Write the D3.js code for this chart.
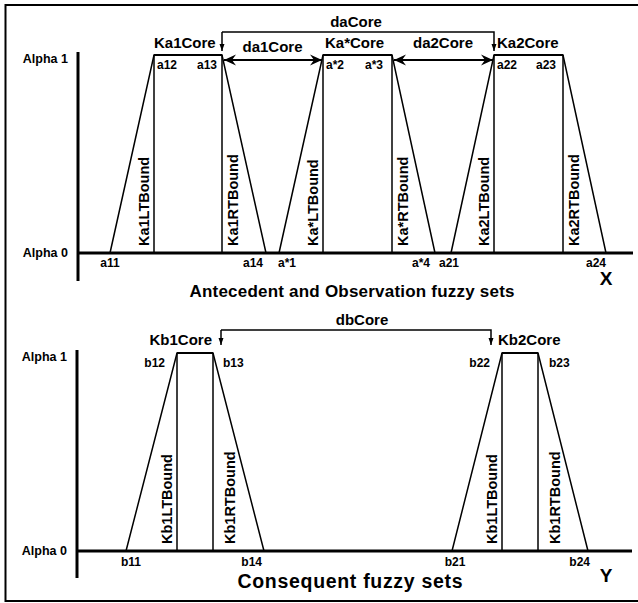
<!DOCTYPE html>
<html lang="en">

<head>
    <meta charset="utf-8">
    <script src="https://d3js.org/d3.v7.min.js"></script>
    <style>
        body { margin: 0; background: #fff; }
        text { font-family: "Liberation Sans", Arial, sans-serif; font-weight: bold; fill: #000; }
    </style>
</head>

<body>
    <script>
        // Fuzzy set break points (x units along the axis)
        const setA1 = [32, 76, 144, 188];
        const setAStar = [201, 245, 314, 357];
        const setA2 = [373, 416, 485, 528];
        const setB1 = [48, 99, 135, 186];
        const setB2 = [374, 424, 460, 510];

        // point labels
        const labelsA1 = ["a11", "a12", "a13", "a14"];
        const labelsAStar = ["a*1", "a*2", "a*3", "a*4"];
        const labelsA2 = ["a21", "a22", "a23", "a24"];
        const labelsB1 = ["b11", "b12", "b13", "b14"];
        const labelsB2 = ["b21", "b22", "b23", "b24"];

        const coreTop = ["Ka1Core", "Ka*Core", "Ka2Core"];
        const coreBottom = ["Kb1Core", "Kb2Core"];
        const boundTop = [["Ka1LTBound", "Ka1RTBound"], ["Ka*LTBound", "Ka*RTBound"], ["Ka2LTBound", "Ka2RTBound"]];
        const boundBottom = [["Kb1LTBound", "Kb1RTBound"], ["Kb1LTBound", "Kb1RTBound"]];

        // distances between cores (start, end)
        const daCore = [144, 416];
        const dbCore = [143, 413];
        const alphaLevels = [0, 1];

        const width = 638;
        const height = 603;

        const svg = d3.select("body").append("svg")
            .attr("width", width)
            .attr("height", height);

        // arrow heads
        const defs = svg.append("defs");
        defs.append("marker")
            .attr("id", "bigArrow")
            .attr("viewBox", "-12 -6 13 12")
            .attr("markerWidth", 13).attr("markerHeight", 12)
            .attr("markerUnits", "userSpaceOnUse")
            .attr("refX", 0).attr("refY", 0)
            .attr("orient", "auto-start-reverse")
            .append("path").attr("d", "M0,0 L-12,-5.5 L-8,0 L-12,5.5 Z");
        defs.append("marker")
            .attr("id", "smallArrow")
            .attr("viewBox", "-7 -3 8 6")
            .attr("markerWidth", 8).attr("markerHeight", 6)
            .attr("markerUnits", "userSpaceOnUse")
            .attr("refX", 0).attr("refY", 0)
            .attr("orient", "auto")
            .append("path").attr("d", "M0,0 L-7,-2.5 L-7,2.5 Z");

        // frame (left, top, bottom)
        svg.append("path")
            .attr("d", "M638,5 L5.5,5 L5.5,601 L638,601")
            .attr("fill", "none").attr("stroke", "#000").attr("stroke-width", 2);

        // shared x scale
        const x = d3.scaleLinear().domain([0, 555]).range([78, 633]);

        function drawPanel(opt) {
            const y = d3.scaleLinear().domain([0, 1]).range(opt.yRange);
            const g = svg.append("g");

            // y axis line
            g.append("line")
                .attr("x1", opt.axisX).attr("x2", opt.axisX)
                .attr("y1", opt.axisTop).attr("y2", opt.axisBottom)
                .attr("stroke", "#000").attr("stroke-width", 3);
            // x axis line
            g.append("line")
                .attr("x1", opt.axisX - 1).attr("x2", opt.axisEnd)
                .attr("y1", y(0)).attr("y2", y(0))
                .attr("stroke", "#000").attr("stroke-width", 3);

            // alpha labels
            g.selectAll(".alpha").data(alphaLevels).join("text")
                .attr("x", opt.axisX - 10)
                .attr("y", d => y(d) + (d === 1 ? opt.alpha1Dy : 4))
                .attr("text-anchor", "end")
                .attr("font-size", 12.5)
                .text(d => "Alpha " + d);

            const line = d3.line().x(d => x(d[0])).y(d => y(d[1]));

            opt.sets.forEach((s, i) => {
                // trapezoid outline
                g.append("path")
                    .datum([[s[0], 0], [s[1], 1], [s[2], 1], [s[3], 0]])
                    .attr("fill", "none").attr("stroke", "#000").attr("stroke-width", 1.5)
                    .attr("d", line);
                g.append("path")
                    .datum([[s[1], 1], [s[2], 1]])
                    .attr("fill", "none").attr("stroke", "#000").attr("stroke-width", 2)
                    .attr("d", line);
                // core verticals
                [s[1], s[2]].forEach(v => {
                    g.append("path")
                        .datum([[v, 1], [v, 0]])
                        .attr("fill", "none").attr("stroke", "#000").attr("stroke-width", 1.5)
                        .attr("d", line);
                });

                // bound labels (rotated)
                const b = opt.bounds[i];
                g.append("text")
                    .attr("transform", `translate(${x(s[1]) - 5},${y(0) - 7}) rotate(-90)`)
                    .attr("font-size", 14.5).text(b[0]);
                g.append("text")
                    .attr("transform", `translate(${x(s[2]) + opt.rtGap},${y(0) - 7}) rotate(-90)`)
                    .attr("font-size", 14.5).text(b[1]);

                // point labels
                const lab = opt.labels[i];
                const pos = opt.labelPos[i];
                lab.forEach((t, k) => {
                    const p = pos[k];
                    g.append("text")
                        .attr("x", x(s[k]) + p[1])
                        .attr("y", k === 0 || k === 3 ? y(0) + opt.lowDy : y(1) + opt.highDy)
                        .attr("text-anchor", p[0])
                        .attr("font-size", 12)
                        .text(t);
                });

                // core label
                const c = opt.coreAnchor[i];
                g.append("text")
                    .attr("x", x(s[c[1]]) + c[2])
                    .attr("y", y(1) + opt.coreDy)
                    .attr("text-anchor", c[0])
                    .attr("font-size", 15)
                    .text(opt.cores[i]);
            });

            // bracket between cores
            const br = opt.bracket;
            g.append("path")
                .attr("d", `M${x(br[0])},${opt.bracketY} L${x(br[1])},${opt.bracketY} L${x(br[1])},${y(1) + opt.tipDy}`)
                .attr("fill", "none").attr("stroke", "#000").attr("stroke-width", 1.5)
                .attr("marker-end", "url(#smallArrow)");
            g.append("path")
                .attr("d", `M${x(br[0])},${opt.bracketY} L${x(br[0])},${y(1) + opt.tipDy}`)
                .attr("fill", "none").attr("stroke", "#000").attr("stroke-width", 1.5)
                .attr("marker-end", "url(#smallArrow)");
            g.append("text")
                .attr("x", x((br[0] + br[1]) / 2) + opt.bracketTextDx)
                .attr("y", opt.bracketY - 5)
                .attr("text-anchor", "middle")
                .attr("font-size", 15)
                .text(opt.bracketLabel);

            // axis name + title
            g.append("text")
                .attr("x", 606).attr("y", y(0) + opt.axisNameDy)
                .attr("text-anchor", "middle").attr("font-size", 19)
                .text(opt.axisName);
            g.append("text")
                .attr("x", opt.titleX).attr("y", y(0) + opt.titleDy)
                .attr("text-anchor", "middle").attr("font-size", opt.titleSize)
                .attr("textLength", opt.titleWidth).attr("lengthAdjust", "spacing")
                .text(opt.title);

            return y;
        }

        // Antecedent panel
        const yTop = drawPanel({
            yRange: [253, 55],
            axisX: 78, axisTop: 52, axisBottom: 281, axisEnd: 633,
            alpha1Dy: 8,
            sets: [setA1, setAStar, setA2],
            labels: [labelsA1, labelsAStar, labelsA2],
            labelPos: [
                [["middle", 0], ["start", 3], ["end", -5], ["end", -3]],
                [["start", -1], ["start", 3], ["end", -9], ["end", -5]],
                [["middle", -2], ["start", 3], ["end", -7], ["end", 0]]
            ],
            lowDy: 14, highDy: 14,
            bounds: boundTop, rtGap: 16,
            cores: coreTop,
            coreAnchor: [["start", 1, 0], ["start", 1, 2], ["start", 1, 3]],
            coreDy: -7,
            bracket: daCore, bracketY: 32, tipDy: -4, bracketTextDx: -2,
            bracketLabel: "daCore",
            axisName: "X", axisNameDy: 32,
            title: "Antecedent and Observation fuzzy sets", titleX: 352, titleDy: 44,
            titleSize: 17, titleWidth: 325
        });

        // Consequent panel
        const yBottom = drawPanel({
            yRange: [551, 353],
            axisX: 77, axisTop: 350, axisBottom: 578, axisEnd: 632,
            alpha1Dy: 8,
            sets: [setB1, setB2],
            labels: [labelsB1, labelsB2],
            labelPos: [
                [["middle", 5], ["end", -12], ["start", 10], ["end", -2]],
                [["middle", 3], ["end", -12], ["start", 11], ["end", 2]]
            ],
            lowDy: 15, highDy: 14,
            bounds: boundBottom, rtGap: 22,
            cores: coreBottom,
            coreAnchor: [["end", 2, -1], ["start", 1, -4]],
            coreDy: -8,
            bracket: dbCore, bracketY: 330, tipDy: -8, bracketTextDx: 6,
            bracketLabel: "dbCore",
            axisName: "Y", axisNameDy: 31,
            title: "Consequent fuzzy sets", titleX: 350, titleDy: 37,
            titleSize: 19.5, titleWidth: 225
        });

        // double arrows between neighbouring cores (top panel)
        const coreGaps = [
            { label: "da1Core", from: setA1[2], to: setAStar[1], textDy: -8 },
            { label: "da2Core", from: setAStar[2], to: setA2[1], textDy: -12 }
        ];
        coreGaps.forEach(d => {
            const yy = yTop(1) + 5;
            svg.append("line")
                .attr("x1", x(d.from) + 2).attr("x2", x(d.to) - 1)
                .attr("y1", yy).attr("y2", yy)
                .attr("stroke", "#000").attr("stroke-width", 2)
                .attr("marker-start", "url(#bigArrow)")
                .attr("marker-end", "url(#bigArrow)");
            svg.append("text")
                .attr("x", (x(d.from) + x(d.to)) / 2)
                .attr("y", yy + d.textDy)
                .attr("text-anchor", "middle")
                .attr("font-size", 15)
                .text(d.label);
        });
    </script>
</body>

</html>
